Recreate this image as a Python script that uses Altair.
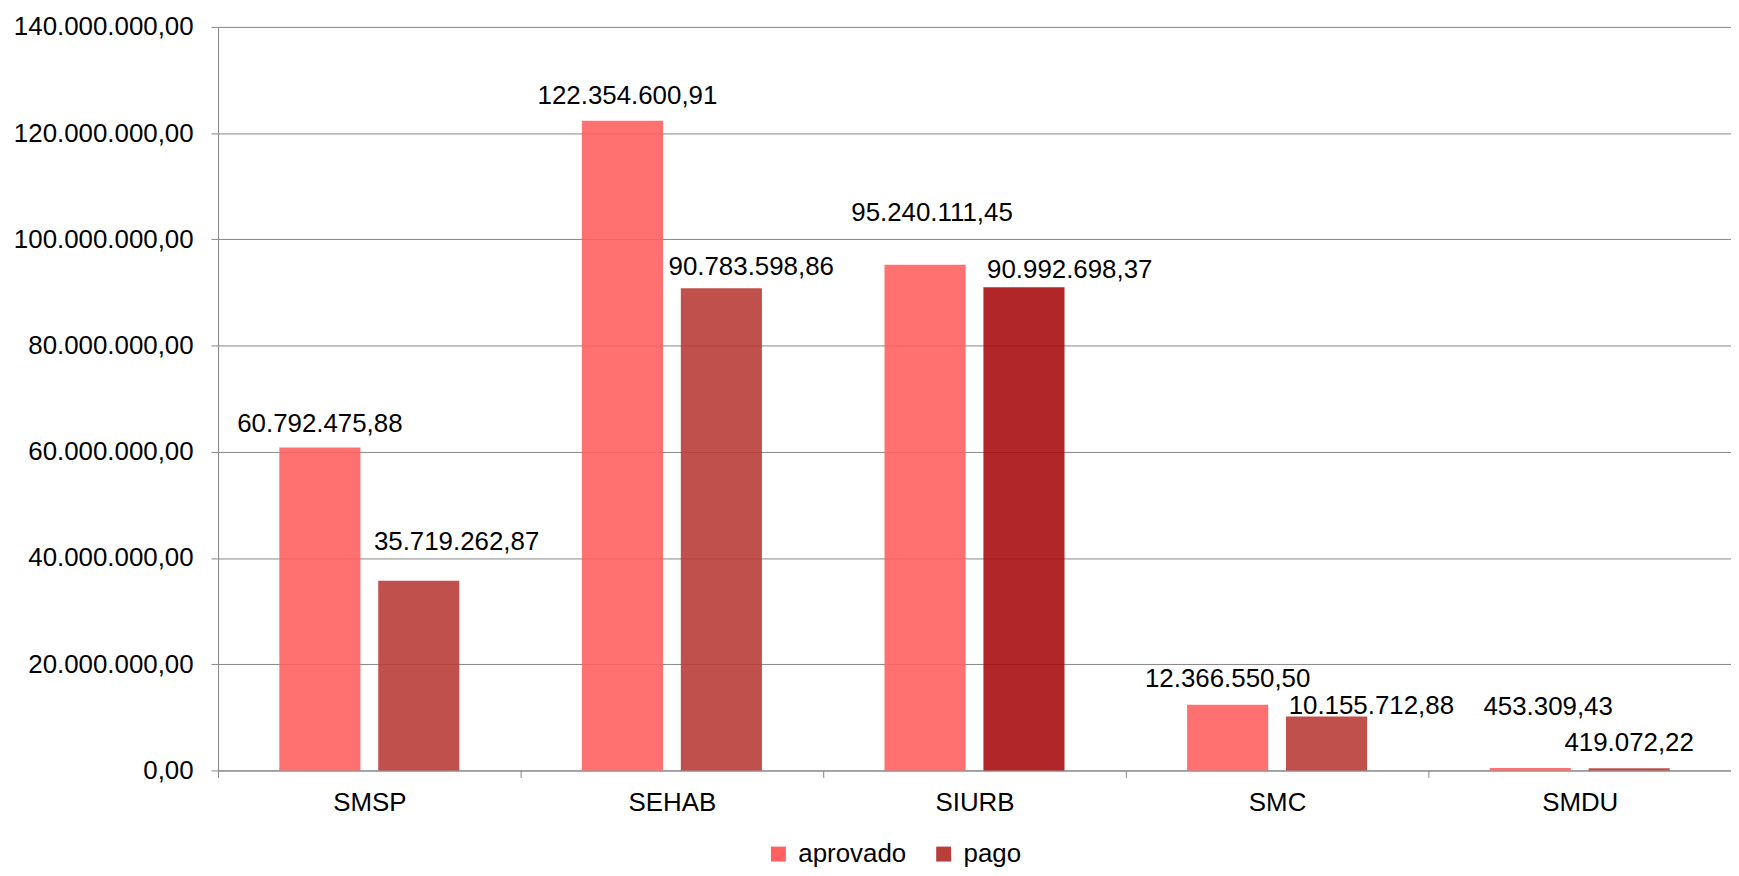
import altair as alt
import pandas as pd

# ---- data ----
orgaos = ["SMSP", "SEHAB", "SIURB", "SMC", "SMDU"]
series = ["aprovado", "pago"]
aprovado = [60792475.88, 122354600.91, 95240111.45, 12366550.50, 453309.43]
pago = [35719262.87, 90783598.86, 90992698.37, 10155712.88, 419072.22]
y_ticks = [0, 20e6, 40e6, 60e6, 80e6, 100e6, 120e6, 140e6]

# label nudges (px) as placed in the original chart
label_dx_aprovado = [0, 5, 7, 0, 18]
label_dx_pago = [38, 30, 46, 45, 0]
label_up_aprovado = [16, 17, 44, 18, 53]
label_up_pago = [31, 13, 9, 3, 17]

rows = []
for i, o in enumerate(orgaos):
    rows.append({"orgao": o, "serie": "aprovado", "valor": aprovado[i],
                 "ldx": label_dx_aprovado[i], "ldy": -label_up_aprovado[i]})
    rows.append({"orgao": o, "serie": "pago", "valor": pago[i],
                 "ldx": label_dx_pago[i], "ldy": -label_up_pago[i]})
df = pd.DataFrame(rows)

FONT = "Liberation Sans"
GRID = "#868686"

base = alt.Chart(df).transform_calculate(
    cor="datum.orgao == 'SIURB' && datum.serie == 'pago' ? 'pago_destaque' : datum.serie"
)

x_enc = alt.X(
    "orgao:N",
    sort=orgaos,
    scale=alt.Scale(paddingInner=0, paddingOuter=0),
    axis=alt.Axis(
        title=None, labelAngle=0, tickBand="extent", tickSize=7,
        tickColor=GRID, domainColor=GRID, labelFont=FONT, labelFontSize=26,
        labelColor="black", labelPadding=12, grid=False, labelLimit=0,
    ),
)
xoff_enc = alt.XOffset(
    "serie:N", sort=series,
    scale=alt.Scale(paddingInner=0.18, paddingOuter=0.62),
)
y_enc = alt.Y(
    "valor:Q",
    scale=alt.Scale(domain=[0, 140e6], nice=False),
    axis=alt.Axis(
        title=None, values=y_ticks, format=",.2f", tickSize=7, tickColor=GRID,
        domainColor=GRID, gridColor=GRID, gridWidth=1, labelFont=FONT,
        labelFontSize=26, labelColor="black", labelPadding=18, labelLimit=0,
    ),
)

bars = base.mark_bar(opacity=0.9).encode(
    x=x_enc,
    xOffset=xoff_enc,
    y=y_enc,
    color=alt.Color(
        "cor:N",
        scale=alt.Scale(
            domain=["aprovado", "pago", "pago_destaque"],
            range=["#FF6161", "#B93D39", "#A90E12"],
        ),
        legend=alt.Legend(
            title=None, values=["aprovado", "pago"], orient="none",
            direction="horizontal", legendX=550, legendY=818,
            symbolType="square", symbolSize=225, symbolStrokeWidth=0,
            symbolOpacity=1, labelFont=FONT, labelFontSize=26,
            labelColor="black", labelOffset=7, columnPadding=24, padding=0,
            labelLimit=0,
        ),
    ),
)

labels = base.mark_text(
    font=FONT, fontSize=26, color="black", align="center",
    baseline="alphabetic",
    dx=alt.ExprRef("datum.ldx"), dy=alt.ExprRef("datum.ldy"),
).encode(
    x=alt.X("orgao:N", sort=orgaos),
    xOffset=alt.XOffset("serie:N", sort=series),
    y=alt.Y("valor:Q"),
    text=alt.Text("valor:Q", format=",.2f"),
)

chart = (
    alt.layer(bars, labels)
    .properties(
        width=1520, height=747,
        autosize=alt.AutoSizeParams(type="none"),
        padding={"left": 211, "top": 17, "right": 0, "bottom": 102},
    )
    .configure(
        locale={"number": {"decimal": ",", "thousands": ".", "grouping": [3],
                           "currency": ["R$", ""]}}
    )
    .configure_view(stroke=None)
)

chart.save("out.html", embed_options={"renderer": "svg", "actions": False})
